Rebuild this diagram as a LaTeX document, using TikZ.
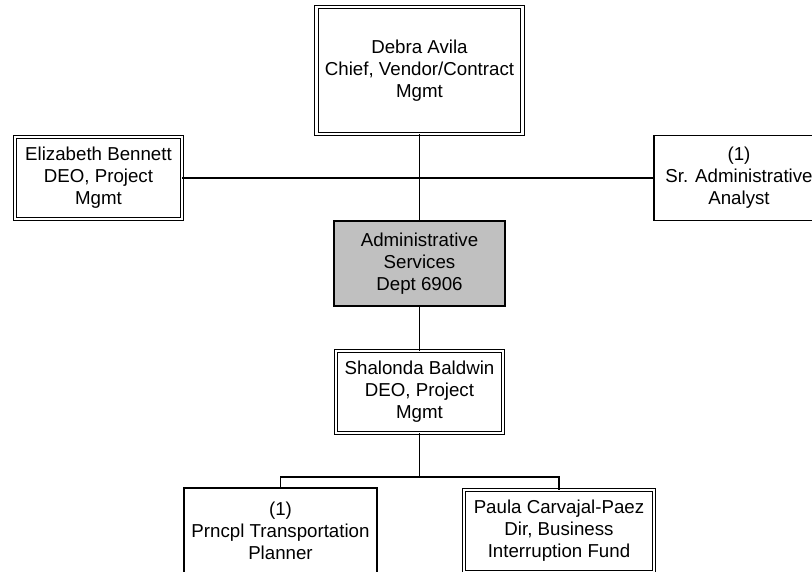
\documentclass[tikz,border=0pt]{standalone}
\usepackage{fontspec}
\setmainfont{Liberation Sans}
\definecolor{boxgray}{HTML}{C0C0C0}
\begin{document}
\begin{tikzpicture}[x=1pt,y=-1pt,
  every node/.style={font=\fontsize{18.7}{22}\selectfont, align=center, inner sep=0pt},
  single/.style={draw, line width=1.2pt, fill=white},
  dbl/.style={draw, double, double distance=2.8pt, line width=0.9pt},
  conn/.style={line width=1.1pt}]
\useasboundingbox (0,0) rectangle (812,572);
\node[dbl, minimum width=206pt, minimum height=127pt] (debra) at (419.5,70.5) {Debra Avila\\Chief, Vendor/Contract\\Mgmt};
\node[dbl, minimum width=167pt, minimum height=82pt] (eliz) at (98.5,178) {Elizabeth Bennett\\DEO, Project\\Mgmt};
\node[single, minimum width=170pt, minimum height=85pt] (sr) at (739,178) {(1)\\Sr. Administrative\\Analyst};
\node[single, fill=boxgray, minimum width=171pt, minimum height=85pt] (admin) at (419.5,263.5) {Administrative\\Services\\Dept 6906};
\node[dbl, minimum width=167pt, minimum height=82pt] (shal) at (419.5,392) {Shalonda Baldwin\\DEO, Project\\Mgmt};
\node[single, minimum width=193pt, minimum height=86pt] (prn) at (280.5,531) {(1)\\Prncpl Transportation\\Planner};
\node[dbl, minimum width=190pt, minimum height=82pt] (paula) at (559,531) {Paula Carvajal-Paez\\Dir, Business\\Interruption Fund};
\coordinate (bus) at (419.5,477);
\draw[conn] (debra.south) -- (admin.north);
\draw[conn] (eliz.east) -- (sr.west);
\draw[conn] (admin.south) -- (shal.north);
\draw[conn] (shal.south) -- (bus);
\draw[conn] (prn.north) |- (bus) -| (paula.north);
\end{tikzpicture}
\end{document}
